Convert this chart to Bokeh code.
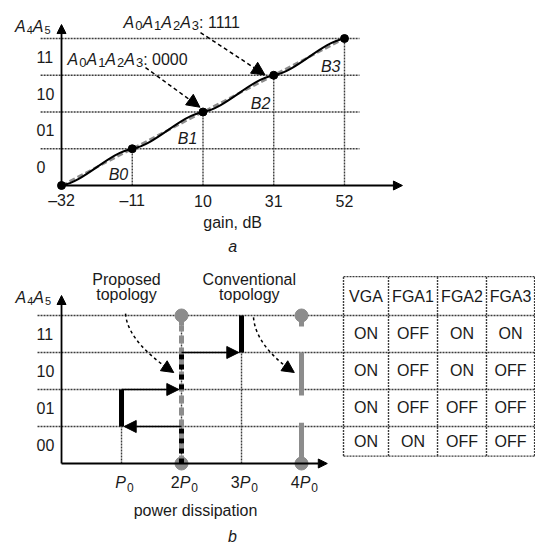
from bokeh.plotting import figure
from bokeh.models import Range1d, Arrow, NormalHead, ColumnDataSource
from bokeh.layouts import column
from bokeh.core.properties import value
from bokeh.embed import file_html
from bokeh.resources import INLINE

# ---------------- data: panel a ----------------
GAIN_DB = [-32, -11, 10, 31, 52]
GAIN_LEVEL = [0, 1, 2, 3, 4]
GAIN_TICK_LABELS = ["–32", "–11", "10", "31", "52"]
TOP_LEVEL_LABELS = ["0", "01", "10", "11"]
SEG_NAMES = ["B0", "B1", "B2", "B3"]
SEG_NAME_X = [-15.1, 5.4, 27.1, 47.9]
SEG_NAME_Y = [0.30, 1.28, 2.23, 3.24]
CODE_BITS = ["0", "1", "2", "3"]
CODE_VALUES = ["1111", "0000"]
CODE_TEXT_X = [-13.6, -30.2]
CODE_TEXT_Y = [4.44, 3.43]
CODE_ARROW_START = [(9.26, 4.16), (-7.07, 3.21)]
CODE_ARROW_END = [(28.4, 3.01), (9.1, 2.13)]

# ---------------- data: panel b ----------------
POWER_MULT = ["", "2", "3", "4"]
POWER_TICKS = [1, 2, 3, 4]
BOT_LEVEL_LABELS = ["00", "01", "10", "11"]
PROP_BAR_X = [1, 3]
PROP_BAR_Y0 = [1, 3]
PROP_BAR_Y1 = [2, 4]
PROP_DASH_X = [2, 2]
PROP_DASH_Y0 = [0, 2]
PROP_DASH_Y1 = [1, 3]
TRANS_X0 = [2, 1, 2]
TRANS_X1 = [1, 2, 3]
TRANS_Y = [1, 2, 3]
CONV_X = [2, 4]
CONV_SEG_X = [4, 4, 4]
CONV_SEG_Y0 = [0, 1.84, 3.7]
CONV_SEG_Y1 = [1.1, 3.0, 4]
TABLE_HEADER = ["VGA", "FGA1", "FGA2", "FGA3"]
TABLE_ROWS = [
    ["ON", "OFF", "ON", "ON"],    # 11
    ["ON", "OFF", "ON", "OFF"],   # 10
    ["ON", "OFF", "OFF", "OFF"],  # 01
    ["ON", "ON", "OFF", "OFF"],   # 00
]
TABLE_COL_EDGES = [4.7, 5.45, 6.267, 7.083, 7.885]
TABLE_ROW_EDGES = [5.05, 4, 3, 2, 1, 0.2]

FONT = value("Liberation Sans")
TXT = "#1a1a1a"
GRID = "#3c3c3c"
GREY = "#8c8c8c"
FS = 16
ADV = {"A": 0.667, "P": 0.667, ":": 0.278, " ": 0.278, "B": 0.667}


def base_fig(h, xr, yr):
    p = figure(width=535, height=h, x_range=Range1d(*xr), y_range=Range1d(*yr),
               output_backend="svg", toolbar_location=None, min_border=0,
               x_axis_location=None, y_axis_location=None)
    p.grid.visible = False
    p.outline_line_color = None
    return p


def txt(p, x, y, t, align="left", style="normal", size=FS, baseline="middle"):
    src = ColumnDataSource(dict(x=x, y=y, t=t))
    p.text(x="x", y="y", text="t", source=src, text_font=FONT,
           text_font_size=f"{size}px", text_align=align, text_baseline=baseline,
           text_font_style=style, text_color=TXT)


def rich(p, x, y, segs, align="left"):
    """segs: list of (text, size_px, style, dy_px) drawn one after another."""
    widths = [sum(ADV.get(c, 0.556) for c in t) * s for t, s, _, _ in segs]
    off = -sum(widths) / 2 if align == "center" else 0.0
    for (t, s, st, dy), w in zip(segs, widths):
        p.text(x=[x], y=[y], text=[t], x_offset=off, y_offset=dy, text_font=FONT,
               text_font_size=f"{s}px", text_align="left", text_baseline="middle",
               text_font_style=st, text_color=TXT)
        off += w + (1.0 if st == "italic" else 0.0)


def arrow(p, xs, ys, xe, ye, size=9, **kw):
    p.add_layout(Arrow(x_start=xs, y_start=ys, x_end=xe, y_end=ye, line_color="black",
                       end=NormalHead(size=size, fill_color="black", line_color="black"),
                       **kw))


# ================= panel a =================
p1 = base_fig(262, (-50.11, 108.7), (-2.095, 5.034))

lv = GAIN_LEVEL[1:]
p1.segment(x0=[-38.2] * len(lv), y0=lv, x1=[56.45] * len(lv), y1=lv,
           line_color=GRID, line_width=1.4, line_dash="2 1")
p1.segment(x0=GAIN_DB[1:], y0=[0] * 4, x1=GAIN_DB[1:], y1=GAIN_LEVEL[1:],
           line_color=GRID, line_width=1.4, line_dash="2 1")
arrow(p1, GAIN_DB[0], 0, GAIN_DB[0], 4.38, line_width=1.8)
arrow(p1, GAIN_DB[0], 0, 69.2, 0, line_width=1.8)

p1.line(GAIN_DB, GAIN_LEVEL, line_color=GREY, line_width=2.5, line_dash="6 3")
W = 0.22
bx0, by0, bx1, by1, c0x, c0y, c1x, c1y = [], [], [], [], [], [], [], []
for i in range(len(GAIN_DB) - 1):
    xa, ya, xb, yb = GAIN_DB[i], GAIN_LEVEL[i], GAIN_DB[i + 1], GAIN_LEVEL[i + 1]
    bx0.append(xa); by0.append(ya); bx1.append(xb); by1.append(yb)
    c0x.append(xa + (xb - xa) / 3); c0y.append(ya + (yb - ya) / 3 - W)
    c1x.append(xa + 2 * (xb - xa) / 3); c1y.append(ya + 2 * (yb - ya) / 3 + W)
p1.bezier(x0=bx0, y0=by0, x1=bx1, y1=by1, cx0=c0x, cy0=c0y, cx1=c1x, cy1=c1y,
          line_color="black", line_width=2)
p1.scatter(GAIN_DB, GAIN_LEVEL, size=8, color="black")

txt(p1, GAIN_DB, [-0.41] * 5, GAIN_TICK_LABELS, align="center")
txt(p1, [-39.4] * 4, [l + 0.5 for l in GAIN_LEVEL[:4]], TOP_LEVEL_LABELS)
rich(p1, -45.8, 4.33, [("A", FS, "italic", 0), ("4", 11, "normal", 4),
                       ("A", FS, "italic", 0), ("5", 11, "normal", 4)])
txt(p1, SEG_NAME_X, SEG_NAME_Y, SEG_NAMES, align="center", style="italic")
for x, y, v in zip(CODE_TEXT_X, CODE_TEXT_Y, CODE_VALUES):
    segs = []
    for b in CODE_BITS:
        segs += [("A", FS, "italic", 0), (b, 13, "normal", 3)]
    segs.append((": " + v, FS, "normal", 0))
    rich(p1, x, y, segs)
for (xs, ys), (xe, ye) in zip(CODE_ARROW_START, CODE_ARROW_END):
    arrow(p1, xs, ys, xe, ye, size=13, line_width=1.5, line_dash="4 3")
txt(p1, [18.8], [-1.01], ["gain, dB"], align="center")
txt(p1, [18.8], [-1.66], ["a"], align="center", style="italic")

# ================= panel b =================
p2 = base_fig(287, (-1.017, 7.9), (-2.324, 5.432))
levels = [1, 2, 3, 4]
p2.segment(x0=[-0.4] * 4, y0=levels, x1=[TABLE_COL_EDGES[0]] * 4, y1=levels,
           line_color=GRID, line_width=1.4, line_dash="2 1")
p2.segment(x0=[1, 2, 3], y0=[0, 0, 0], x1=[1, 2, 3], y1=[1, 4, 3],
           line_color=GRID, line_width=1.4, line_dash="2 1")
arrow(p2, 0, 0, 0, 4.54, line_width=1.8)
arrow(p2, 0, 0, 4.43, 0, line_width=1.8)

# conventional topology (grey)
p2.segment(x0=[2], y0=[0], x1=[2], y1=[3.72], line_color=GREY, line_width=5,
           line_dash="8 4")
p2.segment(x0=[2], y0=[3.72], x1=[2], y1=[4], line_color=GREY, line_width=5)
p2.segment(x0=CONV_SEG_X, y0=CONV_SEG_Y0, x1=CONV_SEG_X, y1=CONV_SEG_Y1,
           line_color=GREY, line_width=5)
p2.scatter(CONV_X + CONV_X, [0, 0, 4, 4], size=13, color=GREY)

# proposed topology (black)
p2.segment(x0=PROP_DASH_X, y0=PROP_DASH_Y0, x1=PROP_DASH_X, y1=PROP_DASH_Y1,
           line_color="black", line_width=5, line_dash="5 5")
p2.segment(x0=PROP_BAR_X, y0=PROP_BAR_Y0, x1=PROP_BAR_X, y1=PROP_BAR_Y1,
           line_color="black", line_width=5)
HALF = 0.045
for x0, x1, y in zip(TRANS_X0, TRANS_X1, TRANS_Y):
    xe = x1 + HALF if x1 < x0 else x1 - HALF
    arrow(p2, x0, y, xe, y, size=12, line_width=1.5)

# curved dashed pointers
CURVE_X0 = [1.067, 3.2]
CURVE_Y0 = [4.05, 3.95]
CURVE_X1 = [1.87, 3.88]
CURVE_Y1 = [2.46, 2.46]
p2.bezier(x0=CURVE_X0, y0=CURVE_Y0, x1=CURVE_X1, y1=CURVE_Y1,
          cx0=[x + 0.03 for x in CURVE_X0], cy0=[3.4, 3.35],
          cx1=[x - 0.35 for x in CURVE_X1], cy1=[y + 0.38 for y in CURVE_Y1],
          line_color="black", line_width=1.5, line_dash="3 3")
for xe, ye in zip(CURVE_X1, CURVE_Y1):
    arrow(p2, xe - 0.1, ye + 0.11, xe, ye, size=12, line_alpha=0)

txt(p2, [-0.417] * 4, [l + 0.5 for l in range(4)], BOT_LEVEL_LABELS)
rich(p2, -0.767, 4.49, [("A", FS, "italic", 0), ("4", 11, "normal", 4),
                        ("A", FS, "italic", 0), ("5", 11, "normal", 4)])
for t, m in zip(POWER_TICKS, POWER_MULT):
    segs = ([(m, FS, "normal", 0)] if m else []) + [("P", FS, "italic", 0),
                                                   ("0", 12, "normal", 5)]
    rich(p2, t + 0.04, -0.51, segs, align="center")
txt(p2, [2.233], [-1.27], ["power dissipation"], align="center")
txt(p2, [2.85], [-1.98], ["b"], align="center", style="italic")
txt(p2, [1.083, 1.083], [4.97, 4.57], ["Proposed", "topology"], align="center")
txt(p2, [3.13, 3.13], [4.97, 4.57], ["Conventional", "topology"], align="center")

# table
ce, re_ = TABLE_COL_EDGES, TABLE_ROW_EDGES
p2.segment(x0=[ce[0]] * len(re_), y0=re_, x1=[ce[-1]] * len(re_), y1=re_,
           line_color=GRID, line_width=1.4, line_dash="2 1")
p2.segment(x0=ce, y0=[re_[-1]] * len(ce), x1=ce, y1=[re_[0]] * len(ce),
           line_color=GRID, line_width=1.4, line_dash="2 1")
tx, ty, tt = [], [], []
rows = [TABLE_HEADER] + TABLE_ROWS
for r, row in enumerate(rows):
    for c, cell in enumerate(row):
        tx.append((ce[c] + ce[c + 1]) / 2)
        ty.append((re_[r] + re_[r + 1]) / 2)
        tt.append(cell)
txt(p2, tx, ty, tt, align="center", size=16)

layout = column(p1, p2, spacing=0)
open("out.html", "w").write(file_html(layout, INLINE))
